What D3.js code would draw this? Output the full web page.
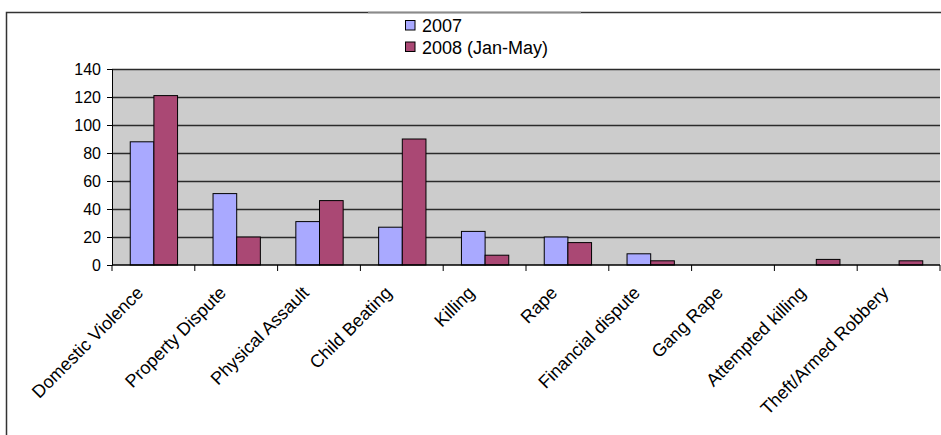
<!DOCTYPE html>
<html>
<head>
<meta charset="utf-8">
<script src="https://cdn.jsdelivr.net/npm/d3@7"></script>
<style>
  html, body { margin: 0; padding: 0; background: #fff; }
  svg { display: block; font-family: "Liberation Sans", Arial, sans-serif; }
</style>
</head>
<body>
<svg id="chart" width="941" height="435"></svg>
<script>
const categories = ["Domestic Violence", "Property Dispute", "Physical Assault", "Child Beating", "Killing", "Rape", "Financial dispute", "Gang Rape", "Attempted killing", "Theft/Armed Robbery"];
const seriesNames = ["2007", "2008 (Jan-May)"];
const values2007 = [88, 51, 31, 27, 24, 20, 8, 0, 0, 0];
const values2008 = [121, 20, 46, 90, 7, 16, 3, 0, 4, 3];
const yTickValues = [0, 20, 40, 60, 80, 100, 120, 140];
const colors = ["#A9A9FF", "#AA4874"];

const svg = d3.select("#chart");
const W = 941, H = 435;
const plot = { left: 112, right: 940, top: 69, bottom: 265 };

svg.append("rect").attr("width", W).attr("height", H).attr("fill", "#fff");

// outer chart frame
svg.append("rect")
  .attr("x", 6.5).attr("y", 12.5)
  .attr("width", 960).attr("height", 460)
  .attr("fill", "none").attr("stroke", "#333").attr("stroke-width", 1.5);
svg.append("line")
  .attr("x1", 368).attr("x2", 581).attr("y1", 12.5).attr("y2", 12.5)
  .attr("stroke", "#8a8a8a").attr("stroke-width", 1.5);

const x = d3.scaleBand().domain(categories).range([plot.left, plot.right]).paddingInner(0).paddingOuter(0);
const x1 = d3.scaleBand().domain(seriesNames).range([0, x.bandwidth()]).paddingInner(0).paddingOuter(0.75);
const y = d3.scaleLinear().domain([0, 140]).range([plot.bottom, plot.top]);

// plot background
svg.append("rect")
  .attr("x", plot.left).attr("y", plot.top)
  .attr("width", plot.right - plot.left).attr("height", plot.bottom - plot.top)
  .attr("fill", "#CCCCCC");

// gridlines
svg.append("g").selectAll("line")
  .data(yTickValues.filter(v => v > 0))
  .join("line")
  .attr("x1", plot.left).attr("x2", plot.right)
  .attr("y1", d => Math.round(y(d)) + 0.5).attr("y2", d => Math.round(y(d)) + 0.5)
  .attr("stroke", "#2a2a2a").attr("stroke-width", 1.3);

// bars
const data = categories.map((c, i) => ({ cat: c, vals: [values2007[i], values2008[i]] }));
const groups = svg.append("g").selectAll("g")
  .data(data).join("g")
  .attr("transform", d => `translate(${x(d.cat)},0)`);
groups.selectAll("rect")
  .data(d => d.vals.map((v, j) => ({ v, s: seriesNames[j], j })).filter(e => e.v > 0))
  .join("rect")
  .attr("x", e => x1(e.s) + 0.5)
  .attr("y", e => y(e.v))
  .attr("width", x1.bandwidth())
  .attr("height", e => y(0) - y(e.v))
  .attr("fill", e => colors[e.j])
  .attr("stroke", "#000").attr("stroke-width", 1);

// y axis
const yAxis = d3.axisLeft(y).tickValues(yTickValues).tickSize(5).tickPadding(6).tickFormat(d3.format("d"));
const gy = svg.append("g").attr("transform", `translate(${plot.left},0)`).call(yAxis);
gy.select(".domain").attr("stroke", "#000");
gy.selectAll(".tick line").attr("stroke", "#000");
gy.selectAll("text").attr("font-size", 16).attr("fill", "#000").attr("font-family", "Liberation Sans, Arial, sans-serif");

// x axis line and ticks at category boundaries
const boundaries = categories.map(c => x(c)).concat([plot.right]);
svg.append("line")
  .attr("x1", plot.left).attr("x2", plot.right)
  .attr("y1", plot.bottom).attr("y2", plot.bottom)
  .attr("stroke", "#000").attr("stroke-width", 1.3);
svg.append("g").selectAll("line")
  .data(boundaries).join("line")
  .attr("x1", d => d).attr("x2", d => d)
  .attr("y1", plot.bottom).attr("y2", plot.bottom + 6)
  .attr("stroke", "#000").attr("stroke-width", 1);

// x labels rotated
svg.append("g").selectAll("text")
  .data(categories).join("text")
  .attr("transform", c => `translate(${x(c) + x.bandwidth() / 2 - 9},${plot.bottom + 29}) rotate(-45)`)
  .attr("text-anchor", "end")
  .attr("font-size", 18)
  .attr("fill", "#000")
  .text(c => c);

// legend
const legend = svg.append("g");
seriesNames.forEach((s, i) => {
  const ly = 20.5 + i * 21.5;
  legend.append("rect")
    .attr("x", 405.5).attr("y", ly)
    .attr("width", 9.5).attr("height", 9.5)
    .attr("fill", colors[i]).attr("stroke", "#000").attr("stroke-width", 1);
  legend.append("text")
    .attr("x", 422).attr("y", ly + 11.5)
    .attr("font-size", 18).attr("fill", "#000")
    .text(s);
});
</script>
</body>
</html>
